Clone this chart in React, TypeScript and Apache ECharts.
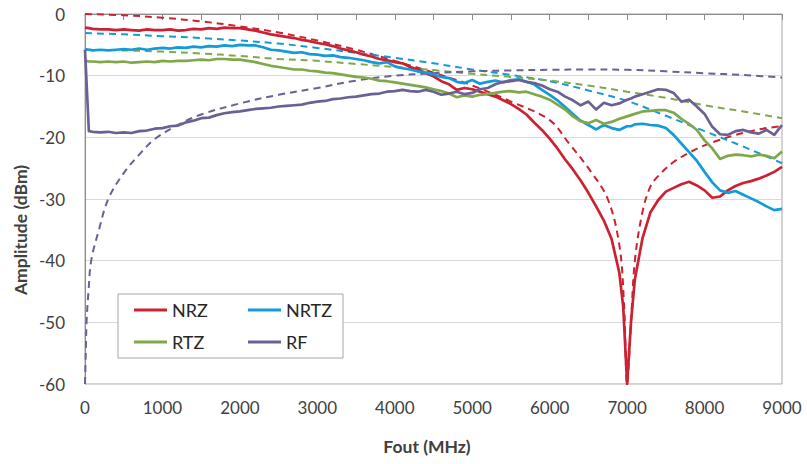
import React, { useEffect, useRef } from "react";
import * as echarts from "echarts";

// Shared frequency grid (MHz) for the measured curves
const FREQ = [
  0, 50, 100, 200, 300, 400, 500, 600, 700, 800, 900,
  1000, 1100, 1200, 1300, 1400, 1500, 1600, 1700, 1800, 1900,
  2000, 2100, 2200, 2300, 2400, 2500, 2600, 2700, 2800, 2900,
  3000, 3100, 3200, 3300, 3400, 3500, 3600, 3700, 3800, 3900,
  4000, 4100, 4200, 4300, 4400, 4500, 4600, 4700, 4800, 4900,
  5000, 5100, 5200, 5300, 5400, 5500, 5600, 5700, 5800, 5900,
  6000, 6100, 6200, 6300, 6400, 6500, 6600, 6700, 6800, 6900,
  6950, 7000, 7050,
  7100, 7200, 7300, 7400, 7500, 7600, 7700, 7800, 7900,
  8000, 8100, 8200, 8300, 8400, 8500, 8600, 8700, 8800, 8900,
  9000,
];

const NRZ = [
  -2.2, -2.3, -2.4, -2.5, -2.5, -2.6, -2.5, -2.6, -2.7, -2.5, -2.6,
  -2.6, -2.5, -2.7, -2.6, -2.4, -2.5, -2.3, -2.4, -2.2, -2.3,
  -2.3, -2.5, -2.7, -3.0, -3.3, -3.5, -3.7, -3.9, -4.2, -4.4,
  -4.7, -4.9, -5.2, -5.6, -5.9, -6.2, -6.6, -6.9, -7.3, -7.5,
  -7.8, -8.0, -8.6, -9.0, -9.6, -10.1, -10.9, -11.4, -12.3, -12.0,
  -12.2, -12.6, -13.0, -13.4, -14.0, -14.6, -15.4, -16.3, -17.6, -18.8,
  -20.2, -21.8, -23.6, -25.2, -27.0, -29.0, -31.2, -33.5, -36.5, -42.0,
  -47.5, -60, -50,
  -43.0, -36.3, -32.2, -30.2, -28.8, -28.2, -27.6, -27.2, -27.8,
  -28.6, -29.8, -29.6, -28.6, -27.9, -27.4, -27.1, -26.7, -26.2, -25.6,
  -24.8,
];

const NRTZ = [
  -5.7, -5.8, -5.9, -5.8, -5.9, -5.8, -5.7, -5.8, -5.6, -5.8, -5.6,
  -5.5, -5.6, -5.4, -5.5, -5.3, -5.4, -5.2, -5.3, -5.1, -5.2,
  -5.0, -5.1, -5.1, -5.4, -5.8, -5.9, -6.1, -6.3, -6.2, -6.5,
  -6.6, -6.8, -6.7, -7.0, -7.1, -7.3, -7.5, -7.8, -8.0, -7.8,
  -8.5, -8.8, -9.0, -9.3, -9.5, -9.8, -10.2, -10.4, -11.0, -11.2,
  -10.7, -11.3, -11.0, -10.8, -11.1, -10.7, -10.6, -11.0, -11.4, -12.3,
  -13.1, -14.0, -15.1, -16.2, -17.3, -18.0, -18.7, -18.0, -18.5, -18.8,
  -18.5, -18.2, -18.2,
  -17.9, -17.8, -18.0, -18.1, -18.5, -19.6, -21.0, -22.4, -23.8,
  -25.6, -27.3, -28.6, -29.0, -28.7, -29.3, -29.9, -30.5, -31.2, -31.8,
  -31.6,
];

const RTZ = [
  -7.6, -7.7, -7.7, -7.8, -7.7, -7.8, -7.7, -7.9, -7.8, -7.7, -7.8,
  -7.6, -7.7, -7.6, -7.6, -7.5, -7.4, -7.5, -7.3, -7.3, -7.4,
  -7.4, -7.6, -7.8, -8.1, -8.4, -8.6, -8.8, -9.0, -9.0, -9.2,
  -9.3, -9.5, -9.6, -9.8, -10.0, -10.2, -10.3, -10.5, -10.8, -10.9,
  -11.1, -11.3, -11.5, -11.7, -11.9, -12.2, -12.5, -12.9, -13.5, -13.2,
  -13.4, -13.1, -13.0, -12.8, -12.6, -12.5, -12.7, -12.6, -13.0, -13.4,
  -13.9, -14.7, -15.5, -16.6, -17.4, -17.7, -17.2, -17.8, -17.5, -17.0,
  -16.8, -16.6, -16.4,
  -16.2, -15.8, -15.7, -15.6, -15.6, -16.0, -17.0, -17.8, -18.8,
  -20.5, -21.8, -23.5, -23.0, -22.8, -22.9, -23.1, -22.8, -23.0, -23.4,
  -22.3,
];

const RF = [
  -5.8, -19.0, -19.1, -19.2, -19.1, -19.3, -19.2, -19.3, -19.0, -18.9, -18.6,
  -18.5, -18.2, -18.1, -17.6, -17.3, -16.9, -16.8, -16.4, -16.1, -15.9,
  -15.8, -15.6, -15.4, -15.3, -15.2, -15.0, -14.9, -14.8, -14.7, -14.4,
  -14.2, -14.1, -13.8, -13.7, -13.5, -13.4, -13.2, -13.0, -12.9, -12.6,
  -12.5, -12.3, -12.5, -12.6, -12.3, -12.6, -13.1, -12.9, -12.6, -13.0,
  -12.8, -12.2, -12.0, -11.4, -11.0, -10.9, -10.7, -11.0, -11.2, -11.6,
  -12.2, -12.6, -13.4, -14.0, -14.8, -14.2, -15.5, -14.4, -14.8, -14.5,
  -14.2, -13.9, -13.7,
  -13.4, -13.0, -12.6, -12.2, -12.3, -12.8, -14.2, -13.9, -15.0,
  -16.2, -18.3, -19.5, -19.6, -19.0, -18.8, -19.2, -19.4, -18.8, -19.6,
  -18.0,
];

// Theoretical (dashed) curves
const THEORY_FREQ = [0, 500, 1000, 1500, 2000, 2500, 3000, 3500, 4000, 4500, 5000, 5500, 6000, 6500, 7000, 7500, 8000, 8500, 9000];
const NRTZ_THEORY = [-3.1, -3.3, -3.6, -3.9, -4.3, -4.8, -5.5, -6.3, -7.1, -8.0, -9.0, -9.9, -10.9, -12.4, -14.1, -16.5, -19.0, -21.5, -24.2];
const RTZ_THEORY = [-5.8, -5.9, -6.1, -6.4, -6.8, -7.3, -7.6, -8.1, -8.6, -9.1, -9.7, -10.2, -10.8, -11.6, -12.6, -13.6, -14.8, -15.8, -16.9];

const NRZ_THEORY_FREQ = [0, 500, 1000, 1500, 2000, 2500, 3000, 3500, 4000, 4500, 5000, 5500, 6000, 6250, 6500, 6750, 6900, 6960, 7000, 7050, 7100, 7200, 7300, 7400, 7600, 7800, 8000, 8200, 8400, 8600, 8800, 9000];
const NRZ_THEORY = [0, -0.2, -0.6, -1.2, -2.0, -3.0, -4.3, -5.8, -7.6, -9.5, -11.6, -14.2, -17.2, -21.0, -25.0, -30.0, -37.5, -47.0, -60, -50, -40, -32, -28, -26.3, -24, -22.5, -21.3, -20.4, -19.6, -19.0, -18.5, -18.2];

const RF_THEORY_FREQ = [0, 10, 20, 45, 80, 180, 300, 500, 700, 900, 1200, 1500, 2000, 2500, 3000, 3500, 4000, 4500, 5000, 5500, 6000, 6500, 7000, 7500, 8000, 8500, 9000];
const RF_THEORY = [-60, -55, -50, -45, -40, -35, -30, -25.8, -22.8, -20.3, -18.0, -16.3, -14.5, -13.1, -12.0, -10.8, -10.0, -9.6, -9.3, -9.15, -9.05, -9.0, -9.05, -9.3, -9.6, -9.9, -10.3];

const X_TICKS = [0, 1000, 2000, 3000, 4000, 5000, 6000, 7000, 8000, 9000];
const Y_TICKS = [0, -10, -20, -30, -40, -50, -60];

const COLORS = {
  NRZ: "#cc2131",
  NRTZ: "#129bd8",
  RTZ: "#80a74a",
  RF: "#6b6095",
};

const FONT = "Lato, 'Open Sans', sans-serif";
const TEXT = "#404040";

function pairs(xs: number[], ys: number[]) {
  return xs.map((x, i) => [x, ys[i]]);
}

export default function App() {
  const ref = useRef<HTMLDivElement>(null);

  useEffect(() => {
    if (!ref.current) return;
    const chart = echarts.init(ref.current, undefined, { renderer: "svg" });

    const solid = (name: string, ys: number[], color: string) => ({
      name,
      type: "line",
      data: pairs(FREQ, ys),
      showSymbol: false,
      symbol: "none",
      z: 3,
      lineStyle: { color, width: 2.7, join: "round" },
      itemStyle: { color },
    });
    const dashed = (name: string, xs: number[], ys: number[], color: string) => ({
      name,
      type: "line",
      data: pairs(xs, ys),
      showSymbol: false,
      symbol: "none",
      smooth: 0.35,
      z: 2,
      lineStyle: { color, width: 2, type: [7, 5] },
      itemStyle: { color },
    });

    chart.setOption({
      animation: false,
      backgroundColor: "#ffffff",
      grid: {
        left: 85,
        right: 25,
        top: 14,
        bottom: 80,
        show: true,
        borderColor: "#a6a6a6",
        borderWidth: 1,
      },
      xAxis: {
        type: "value",
        min: 0,
        max: 9000,
        interval: 1000,
        axisLine: { show: true, lineStyle: { color: "#8c8c8c", width: 1 } },
        axisTick: { show: true, length: 6, lineStyle: { color: "#8c8c8c" } },
        minorTick: { show: true, splitNumber: 2, length: 6, lineStyle: { color: "#8c8c8c" } },
        splitLine: { show: false },
        axisLabel: {
          color: TEXT,
          fontSize: 17,
          fontFamily: FONT,
          margin: 15,
          formatter: (v: number) => (X_TICKS.includes(v) ? String(v) : ""),
        },
      },
      yAxis: {
        type: "value",
        min: -60,
        max: 0,
        interval: 10,
        axisLine: { show: true, onZero: false, lineStyle: { color: "#8c8c8c", width: 1 } },
        axisTick: { show: false },
        splitLine: { show: true, lineStyle: { color: "#d9d9d9", width: 1 } },
        axisLabel: {
          color: TEXT,
          fontSize: 17,
          fontFamily: FONT,
          margin: 20,
          formatter: (v: number) => (Y_TICKS.includes(v) ? String(v) : ""),
        },
      },
      legend: [
        {
          data: ["NRZ", "RTZ"],
          orient: "vertical",
          left: 129,
          top: 295,
          itemWidth: 33,
          itemHeight: 3,
          itemGap: 12,
          icon: "rect",
          z: 20,
          textStyle: { color: "#262626", fontSize: 18, fontFamily: FONT, lineHeight: 20 },
        },
        {
          data: ["NRTZ", "RF"],
          orient: "vertical",
          left: 243,
          top: 295,
          itemWidth: 33,
          itemHeight: 3,
          itemGap: 12,
          icon: "rect",
          z: 20,
          textStyle: { color: "#262626", fontSize: 18, fontFamily: FONT, lineHeight: 20 },
        },
      ],
      graphic: [
        {
          type: "rect",
          z: 10,
          shape: { x: 118, y: 294, width: 225, height: 64 },
          style: { fill: "#ffffff", stroke: "#a6a6a6", lineWidth: 1 },
        },
        {
          type: "text",
          z: 10,
          x: 20,
          y: 230,
          rotation: Math.PI / 2,
          style: {
            text: "Amplitude (dBm)",
            fontSize: 17.5,
            fontWeight: "bold",
            fontFamily: FONT,
            fill: TEXT,
            align: "center",
            verticalAlign: "middle",
          },
        },
        {
          type: "text",
          z: 10,
          x: 427,
          y: 446,
          style: {
            text: "Fout (MHz)",
            fontSize: 17.5,
            fontWeight: "bold",
            fontFamily: FONT,
            fill: TEXT,
            align: "center",
            verticalAlign: "middle",
          },
        },
      ],
      series: [
        dashed("NRZ theory", NRZ_THEORY_FREQ, NRZ_THEORY, COLORS.NRZ),
        dashed("NRTZ theory", THEORY_FREQ, NRTZ_THEORY, COLORS.NRTZ),
        dashed("RTZ theory", THEORY_FREQ, RTZ_THEORY, COLORS.RTZ),
        dashed("RF theory", RF_THEORY_FREQ, RF_THEORY, COLORS.RF),
        solid("NRZ", NRZ, COLORS.NRZ),
        solid("NRTZ", NRTZ, COLORS.NRTZ),
        solid("RTZ", RTZ, COLORS.RTZ),
        solid("RF", RF, COLORS.RF),
      ],
    });

    return () => chart.dispose();
  }, []);

  return <div ref={ref} style={{ width: 807, height: 464, position: "absolute", left: 0, top: 0 }} />;
}
